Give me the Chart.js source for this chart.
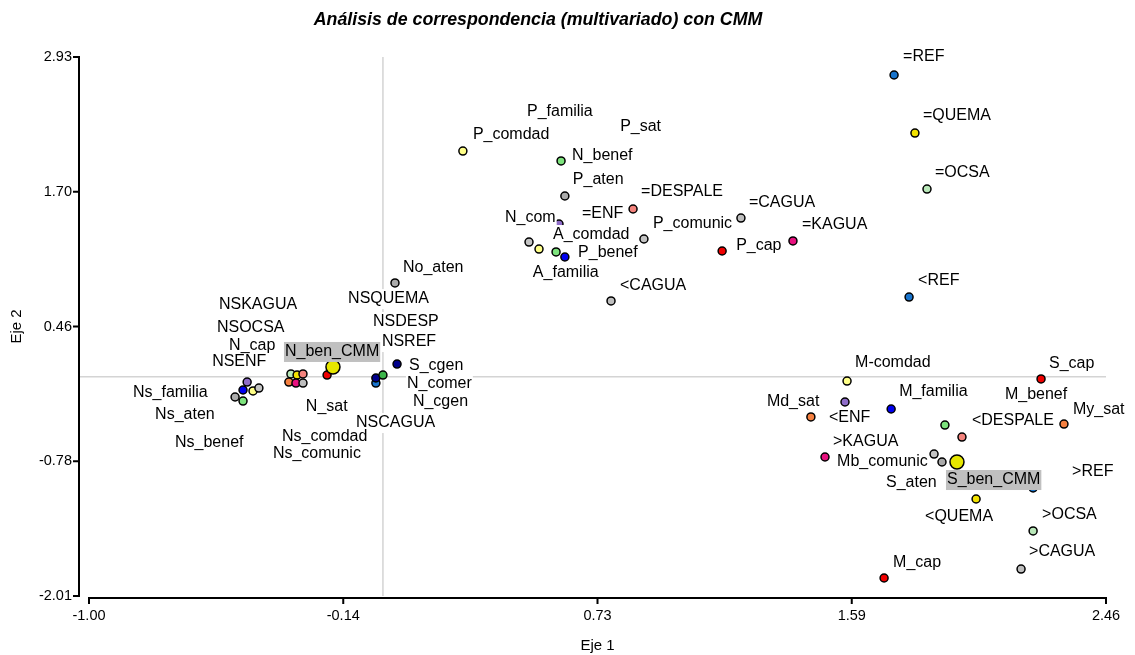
<!DOCTYPE html>
<html><head><meta charset="utf-8">
<script src="https://cdn.jsdelivr.net/npm/chart.js@4.4.0/dist/chart.umd.min.js"></script>
<style>html,body{margin:0;padding:0;background:#fff;}#wrap{width:1135px;height:655px;}</style>
</head><body><div id="wrap"><canvas id="c" width="1135" height="655"></canvas></div>
<script>
// ---------- data ----------
const categories = ['=REF','=QUEMA','=OCSA','<REF','P_familia','P_comdad','P_sat','N_benef','P_aten','=DESPALE',
  '=ENF','N_com','A_comdad','P_benef','A_familia','P_comunic','<CAGUA','=CAGUA','P_cap','=KAGUA',
  'No_aten','Ns_aten','Ns_benef','Ns_familia','NSENF','Ns_comdad','Ns_comunic','NSOCSA','NSQUEMA','NSDESP',
  'N_sat','NSKAGUA','NSCAGUA','N_cap','N_ben_CMM','NSREF','N_cgen','N_comer','S_cgen','M-comdad',
  'S_cap','My_sat','Md_sat','<ENF','M_familia','M_benef','<DESPALE','>KAGUA','Mb_comunic','S_aten',
  'S_ben_CMM','>REF','<QUEMA','>OCSA','>CAGUA','M_cap'];
const groups = ['REF','QUEMA','OCSA','REF','familia','comdad','sat','benef','aten','DESPALE',
  'ENF','comunic','comdad','benef','familia','comunic','CAGUA','CAGUA','cap','KAGUA',
  'aten','aten','benef','familia','ENF','comdad','comunic','OCSA','QUEMA','DESPALE',
  'sat','KAGUA','CAGUA','cap','ben','REF','cgen','comer','cgen','comdad',
  'cap','sat','sat','ENF','familia','benef','DESPALE','KAGUA','comunic','aten',
  'ben','REF','QUEMA','OCSA','CAGUA','cap'];
const eje1 = [1.739,1.810,1.851,1.790,0.456,0.272,0.739,0.606,0.619,0.851,
  0.599,0.497,0.531,0.589,0.619,0.888,0.776,1.218,1.154,1.395,
  0.041,-0.503,-0.476,-0.476,-0.462,-0.442,-0.422,-0.313,-0.292,-0.272,
  -0.320,-0.296,-0.272,-0.190,-0.170,-0.024,-0.024,0.000,0.048,1.579,
  2.239,2.317,1.456,1.572,1.729,1.912,1.970,1.504,1.875,1.902,
  1.953,2.212,2.018,2.212,2.171,1.705];
const eje2 = [2.765,2.233,1.720,0.730,2.169,2.068,2.032,1.977,1.656,1.537,
  1.399,1.234,1.170,1.143,1.097,1.262,0.694,1.454,1.152,1.244,
  0.859,-0.186,-0.223,-0.122,-0.049,-0.131,-0.104,0.025,0.015,0.025,
  -0.049,-0.058,-0.058,0.015,0.089,-0.058,-0.012,0.015,0.116,-0.040,
  -0.021,-0.434,-0.369,-0.232,-0.296,-0.443,-0.553,-0.736,-0.709,-0.782,
  -0.782,-1.020,-1.121,-1.414,-1.763,-1.845];
const highlighted = ['N_ben_CMM','S_ben_CMM'];
const xTickLabels = ['-1.00','-0.14','0.73','1.59','2.46'];
const yTickLabels = ['-2.01','-0.78','0.46','1.70','2.93'];
const xRange = [-1.00, 2.46];
const yRange = [-2.01, 2.93];
const chartTitle = 'Análisis de correspondencia (multivariado) con CMM';

// ---------- style / layout ----------
const groupColors = {REF:'#1874CD',QUEMA:'#F2E200',OCSA:'#B9E8B9',CAGUA:'#BEBEBE',KAGUA:'#E8117F',
  DESPALE:'#F4837D',ENF:'#8E6CC8',cap:'#F00000',sat:'#F58040',comdad:'#FFFF88',familia:'#0000F0',
  benef:'#7DE37D',comunic:'#C4C4C4',aten:'#ABABAB',cgen:'#00008B',ben:'#E6E600',comer:'#3CB54A'};
const labelOffsets = {
  '=REF':[9,-18],'=QUEMA':[8,-17],'=OCSA':[8,-16],'<REF':[9,-16],'P_familia':[10,-28],'P_comdad':[10,-16],
  'P_sat':[20,-28],'N_benef':[11,-5],'P_aten':[8,-16],'=DESPALE':[8,-17],'=ENF':[23,-10],'N_com':[-24,-24],
  'A_comdad':[14,-14],'P_benef':[22,1],'A_familia':[-32,16],'P_comunic':[9,-15],'<CAGUA':[9,-15],
  '=CAGUA':[8,-15],'P_cap':[14,-5],'=KAGUA':[9,-16],'No_aten':[8,-15],
  'Ns_aten':[-80,18],'Ns_benef':[-68,42],'Ns_familia':[-110,3],'NSENF':[-35,-20],'Ns_comdad':[29,46],
  'Ns_comunic':[14,66],'NSOCSA':[-74,-46],'NSQUEMA':[51,-76],'NSDESP':[70,-52],'N_sat':[17,25],
  'NSKAGUA':[-77,-78],'NSCAGUA':[53,40],'N_cap':[-98,-29],'N_ben_CMM':[-48,-15],'NSREF':[6,-41],
  'N_cgen':[37,24],'N_comer':[24,9],'S_cgen':[12,2],
  'M-comdad':[8,-18],'S_cap':[8,-15],'My_sat':[9,-14],'Md_sat':[-44,-15],'<ENF':[-16,16],'M_familia':[8,-17],
  'M_benef':[60,-30],'<DESPALE':[10,-16],'>KAGUA':[8,-15],'Mb_comunic':[-97,8],'S_aten':[-56,21],
  'S_ben_CMM':[-10,18],'>REF':[39,-16],'<QUEMA':[-51,18],'>OCSA':[9,-16],'>CAGUA':[8,-17],'M_cap':[9,-15]};
const FONT = '"Liberation Sans", Arial, sans-serif';
Chart.defaults.font.family = FONT;
Chart.defaults.color = '#000';

const evenTicks = (range, n) => Array.from({length:n}, (_, i) => ({value: range[0] + i*(range[1]-range[0])/(n-1)}));

const overlay = {
  id: 'overlay',
  beforeDatasetsDraw(chart) {
    const {ctx, chartArea: a, scales: {x, y}} = chart;
    const x0 = x.getPixelForValue(0), y0 = y.getPixelForValue(0);
    const axX = a.left - 10, axY = a.bottom + 2;
    ctx.save();
    ctx.strokeStyle = '#d4d4d4'; ctx.lineWidth = 1.5;
    ctx.beginPath();
    ctx.moveTo(x0, a.top); ctx.lineTo(x0, a.bottom);
    ctx.moveTo(axX, y0); ctx.lineTo(a.right, y0);
    ctx.stroke();
    ctx.strokeStyle = '#000'; ctx.lineWidth = 2; ctx.lineCap = 'square';
    ctx.beginPath();
    ctx.moveTo(axX, a.top); ctx.lineTo(axX, a.bottom);
    y.ticks.forEach(t => { const p = y.getPixelForValue(t.value); ctx.moveTo(axX - 5, p); ctx.lineTo(axX, p); });
    ctx.moveTo(a.left, axY); ctx.lineTo(a.right, axY);
    x.ticks.forEach(t => { const p = x.getPixelForValue(t.value); ctx.moveTo(p, axY); ctx.lineTo(p, axY + 5); });
    ctx.stroke();
    ctx.restore();
  },
  afterDatasetsDraw(chart) {
    const {ctx} = chart;
    const meta = chart.getDatasetMeta(0);
    ctx.save();
    ctx.font = '16px ' + FONT;
    ctx.textBaseline = 'middle'; ctx.textAlign = 'left';
    const items = categories.map((name, i) => {
      const el = meta.data[i];
      const off = labelOffsets[name] || [8, -16];
      return {name, lx: el.x + off[0], ly: el.y + off[1], w: ctx.measureText(name).width, hi: highlighted.includes(name)};
    });
    items.forEach(it => {
      ctx.fillStyle = it.hi ? '#C0C0C0' : '#FFFFFF';
      ctx.fillRect(it.lx - 1, it.ly - 10, it.w + 2, 20);
    });
    ctx.fillStyle = '#000';
    items.forEach(it => ctx.fillText(it.name, it.lx, it.ly));
    ctx.restore();
  },
  afterDraw(chart) {
    const {ctx} = chart;
    ctx.save();
    ctx.font = 'italic bold 17.8px ' + FONT;
    ctx.fillStyle = '#000'; ctx.textAlign = 'center'; ctx.textBaseline = 'middle';
    ctx.fillText(chartTitle, 538, 20);
    ctx.restore();
  }
};

new Chart(document.getElementById('c'), {
  type: 'scatter',
  data: {
    datasets: [{
      data: eje1.map((v, i) => ({x: v, y: eje2[i]})),
      backgroundColor: groups.map(g => groupColors[g]),
      borderColor: '#000',
      borderWidth: 1.5,
      pointRadius: categories.map(c => highlighted.includes(c) ? 7 : 4),
      pointHoverRadius: categories.map(c => highlighted.includes(c) ? 7 : 4),
      clip: false
    }]
  },
  options: {
    responsive: false, animation: false, devicePixelRatio: 1,
    layout: {padding: {left: 0, right: 29, top: 57, bottom: 0}},
    plugins: {legend: {display: false}, tooltip: {enabled: false}, title: {display: false}},
    scales: {
      x: {
        type: 'linear', min: xRange[0], max: xRange[1],
        grid: {display: false, drawTicks: false}, border: {display: false},
        afterBuildTicks: s => { s.ticks = evenTicks(xRange, xTickLabels.length); },
        afterFit: s => { s.height = 59; },
        ticks: {padding: 11, font: {size: 14.5}, color: '#000', autoSkip: false, maxRotation: 0,
                callback: (v, i) => xTickLabels[i]},
        title: {display: true, text: 'Eje 1', font: {size: 15}, color: '#000', padding: {top: 0, bottom: 0}}
      },
      y: {
        type: 'linear', min: yRange[0], max: yRange[1],
        grid: {display: false, drawTicks: false}, border: {display: false},
        afterBuildTicks: s => { s.ticks = evenTicks(yRange, yTickLabels.length); },
        afterFit: s => { s.width = 89; },
        ticks: {padding: 17, font: {size: 14.5}, color: '#000', autoSkip: false,
                callback: (v, i) => yTickLabels[i]},
        title: {display: true, text: 'Eje 2', font: {size: 15}, color: '#000', padding: {top: 8, bottom: 0}}
      }
    }
  },
  plugins: [overlay]
});
</script></body></html>
